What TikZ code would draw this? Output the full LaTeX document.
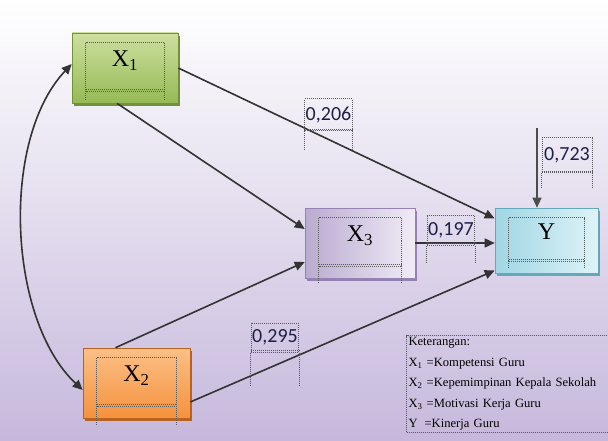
\documentclass[tikz,border=0pt]{standalone}
\usepackage{fontspec}
\setmainfont{Liberation Serif}
\newfontfamily\numfont{Carlito}
\usetikzlibrary{arrows.meta,shadows}

\definecolor{bgbot}{RGB}{198,184,220}
\definecolor{greenT}{RGB}{205,224,160}
\definecolor{greenB}{RGB}{150,186,86}
\definecolor{greenD}{RGB}{115,145,55}
\definecolor{purpT}{RGB}{240,236,246}
\definecolor{purpB}{RGB}{186,170,208}
\definecolor{purpD}{RGB}{150,130,178}
\definecolor{cyanT}{RGB}{222,243,247}
\definecolor{cyanB}{RGB}{160,214,228}
\definecolor{cyanD}{RGB}{100,168,188}
\definecolor{orngT}{RGB}{251,192,135}
\definecolor{orngB}{RGB}{245,146,62}
\definecolor{orngD}{RGB}{185,98,30}
\definecolor{numcol}{RGB}{30,32,70}

\begin{document}
\begin{tikzpicture}[x=1pt, y=-1pt, >={Triangle[length=10pt,width=9pt]}]
  \tikzstyle{var_box}    = [minimum width=106pt, minimum height=70pt, inner sep=0pt, line width=0.6pt,
                            font=\fontsize{24}{24}\selectfont, text height=16pt, text depth=19pt];
  \tikzstyle{green_box}  = [var_box, draw=greenD, top color=greenT, bottom color=greenB,
                            drop shadow={shadow xshift=2pt, shadow yshift=-3pt, fill=greenD, opacity=1}];
  \tikzstyle{purple_box} = [var_box, draw=purpD, left color=purpB, right color=purpT,
                            drop shadow={shadow xshift=2pt, shadow yshift=-3pt, fill=purpD, opacity=1}];
  \tikzstyle{cyan_box}   = [var_box, draw=cyanD, left color=cyanB, right color=cyanT,
                            drop shadow={shadow xshift=2pt, shadow yshift=-3pt, fill=cyanD, opacity=1}];
  \tikzstyle{orange_box} = [var_box, draw=orngD, top color=orngT, bottom color=orngB,
                            drop shadow={shadow xshift=2pt, shadow yshift=-3pt, fill=orngD, opacity=1}];
  \tikzstyle{tbox}       = [draw=black!65, dash pattern=on 1pt off 1pt, line width=1pt];
  \tikzstyle{coef}       = [tbox, text=numcol, inner sep=1pt, minimum width=47pt, minimum height=32pt,
                            font=\numfont\fontsize{20}{20}\selectfont];
  \tikzstyle{link}       = [draw=black!80, line width=1.6pt, ->];

  \useasboundingbox (0,0) rectangle (608,441);
  \clip (0,0) rectangle (608,441);
  \shade[top color=white, bottom color=bgbot] (0,0) rectangle (608,441);

  % variables
  \node[green_box,  minimum width=106pt] (X1) at (125,68)    {X\textsubscript{1}};
  \node[orange_box, minimum width=107pt] (X2) at (136.5,383) {X\textsubscript{2}};
  \node[purple_box, minimum width=110pt] (X3) at (360,243)   {X\textsubscript{3}};
  \node[cyan_box,   minimum width=103pt, minimum height=65pt] (Y) at (546.5,240.5) {Y};

  % text frames inside the boxes
  \foreach \n/\l in {X1/9, X2/20, X3/17, Y/7} {
    \draw[tbox] ([shift={(14,10)}]\n.north west) rectangle ([shift={(-14,-12)}]\n.south east);
    \draw[tbox] ([shift={(14,-14)}]\n.south west) -- ([shift={(-14,-14)}]\n.south east);
    \draw[tbox] ([shift={(14,-12)}]\n.south west) -- ++(0,\l);
    \draw[tbox] ([shift={(-14,-12)}]\n.south east) -- ++(0,\l);
  }

  % paths
  \draw[link] (X1.east) -- ([yshift=22pt]Y.west);
  \draw[link] ([xshift=-8pt]X1.south) -- ([yshift=14pt]X3.west);
  \draw[link] ([xshift=-21pt]X2.north) -- ([yshift=-19pt]X3.west);
  \draw[link] ([yshift=-19pt]X2.east) -- ([yshift=-30pt]Y.west);
  \draw[link] (X3.east) -- (X3.east -| Y.west);
  \draw[draw=black!80, line width=1.6pt, <->] ([yshift=4pt]X1.west)
    .. controls (0,140) and (8,320) .. ([yshift=-7pt]X2.west);

  \coordinate (err) at (537,128);
  \draw[draw=black!70, line width=1.2pt, ->] (err) -- (err |- Y.north);

  % coefficients
  \node[coef] (c206) at (328.5,115) {0,206};
  \node[coef, minimum height=30pt] (c197) at (451,230) {0,197};
  \node[coef, minimum height=29pt] (c295) at (275,337.5) {0,295};
  \node[coef, minimum width=50pt, minimum height=35pt] (c723) at (567,155.5) {0,723};
  \foreach \c/\l in {c206/20, c197/18, c295/33, c723/15} {
    \draw[tbox] ([yshift=2pt]\c.south west) -- ([yshift=2pt]\c.south east);
    \draw[tbox] (\c.south west) -- ++(0,\l);
    \draw[tbox] (\c.south east) -- ++(0,\l);
  }

  % legend
  \node[tbox, anchor=north west, align=left, text width=240pt, inner sep=2pt,
        font=\fontsize{12.6}{20.5}\selectfont] (legend) at (406,335)
    {Keterangan:\\
     X\textsubscript{1} =Kompetensi Guru\\
     X\textsubscript{2} =Kepemimpinan Kepala Sekolah\\
     X\textsubscript{3} =Motivasi Kerja Guru\\
     Y\hspace{7pt}=Kinerja Guru};
\end{tikzpicture}
\end{document}
